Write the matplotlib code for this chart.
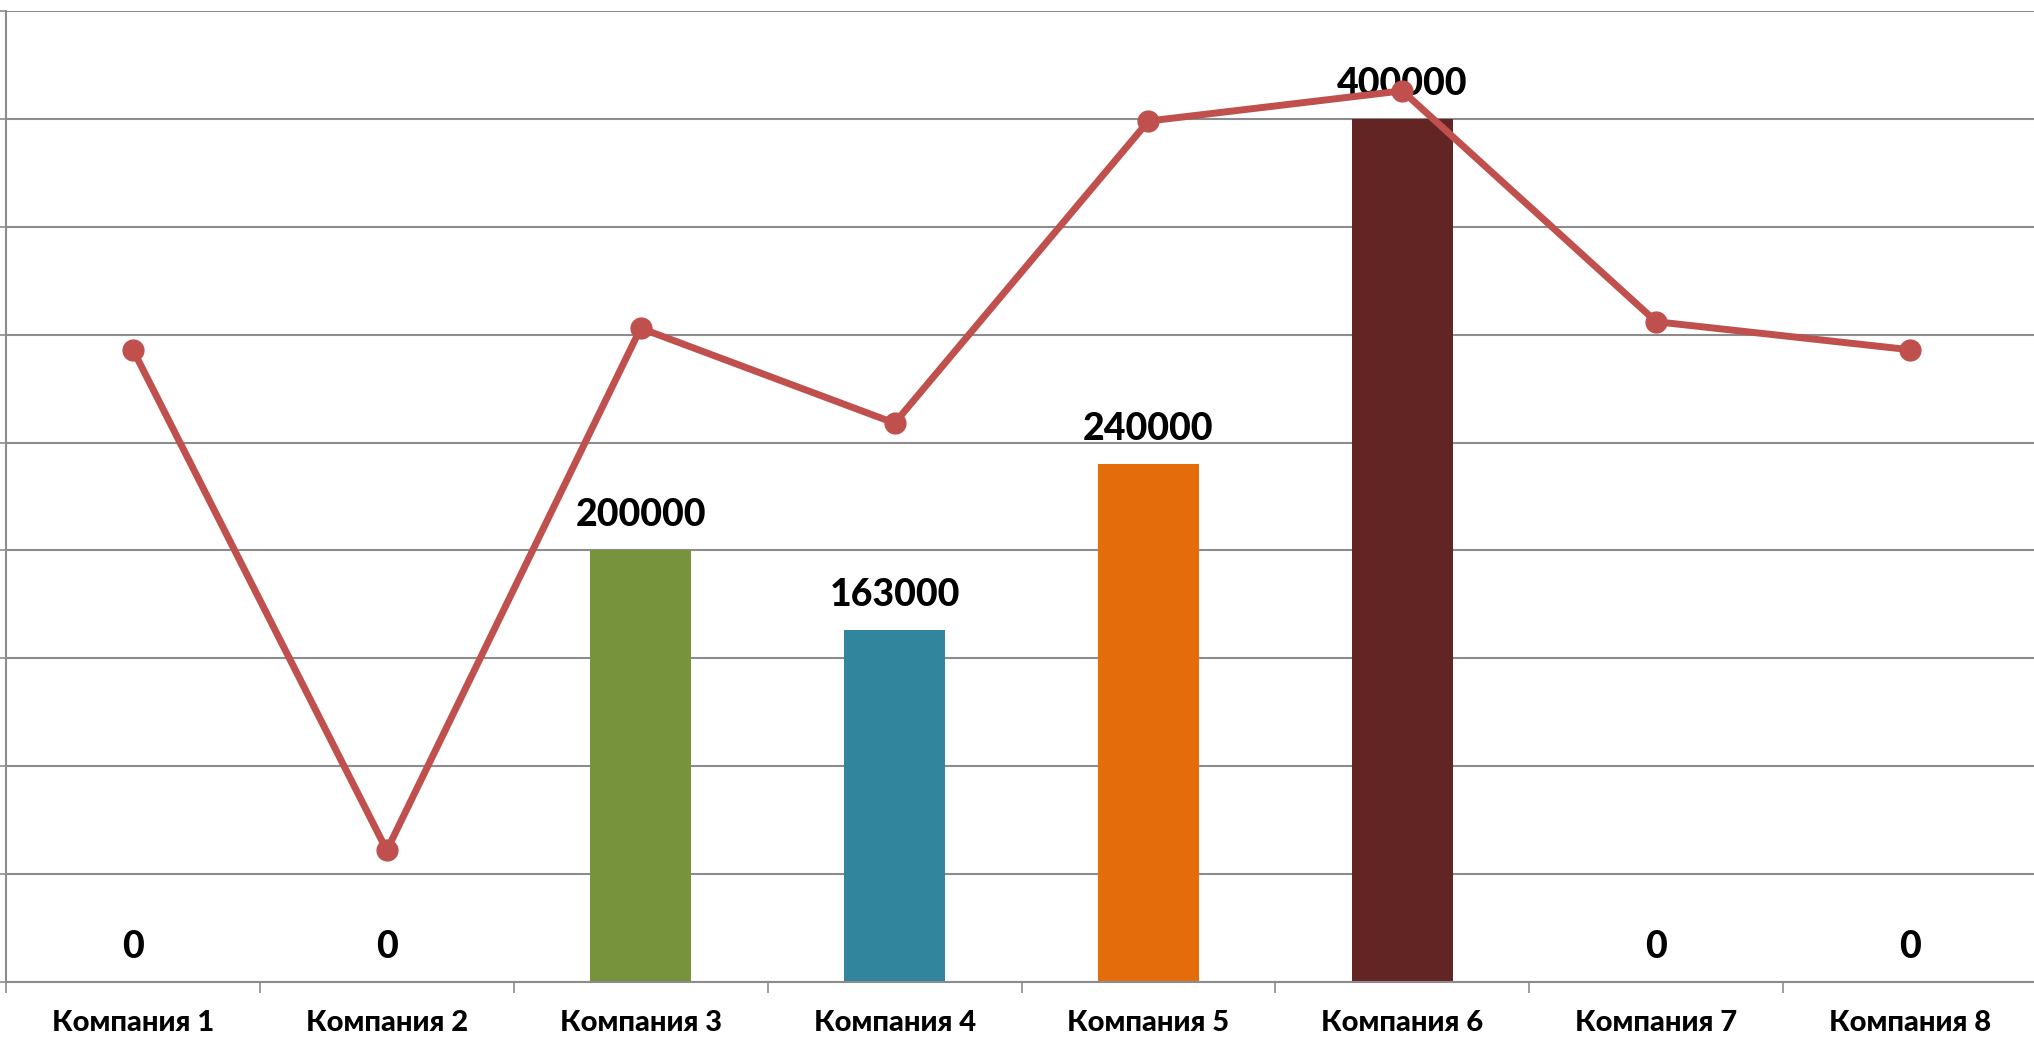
import matplotlib
matplotlib.use("Agg")
import matplotlib.pyplot as plt
import numpy as np

# data
companies = ["Компания 1", "Компания 2", "Компания 3", "Компания 4",
             "Компания 5", "Компания 6", "Компания 7", "Компания 8"]
revenue = [0, 0, 200000, 163000, 240000, 400000, 0, 0]
bar_colors = ["#4F81BD", "#C0504D", "#77933C", "#31859C",
              "#E46C0A", "#632523", "#8064A2", "#4BACC6"]
# secondary (hidden) axis series
index_values = [29.3, 6.1, 30.3, 25.9, 39.9, 41.3, 30.6, 29.3]

plt.rcParams['font.family'] = ['Lato', 'DejaVu Sans']

fig = plt.figure(figsize=(20.34, 10.38), dpi=100)
ax = fig.add_axes([6 / 2034, 56 / 1038, 2031 / 2034, 971 / 1038])

x = np.arange(len(companies))
bars = ax.bar(x, revenue, width=0.4, color=bar_colors, zorder=2)

ax.set_xlim(-0.5, len(companies) - 0.5)
ax.set_ylim(0, 450000)
ax.set_yticks(np.arange(0, 450001, 50000))
ax.set_yticklabels([])
ax.grid(axis='y', color='#8c8c8c', linewidth=1.5, zorder=0)
ax.tick_params(axis='y', length=4, width=1.2, color='#8c8c8c', direction='out')

# category boundary ticks on x
ax.set_xticks(np.arange(-0.5, len(companies) + 0.5, 1), minor=False)
ax.set_xticklabels([])
ax.tick_params(axis='x', length=8, width=1.2, color='#8c8c8c', direction='out')
ax.set_xticks(x, minor=True)
ax.set_xticklabels(companies, minor=True, fontsize=21, fontweight='black')
ax.tick_params(axis='x', which='minor', length=0, pad=20)

for side in ['top', 'right']:
    ax.spines[side].set_visible(False)
for side in ['left', 'bottom']:
    ax.spines[side].set_color('#8c8c8c')
    ax.spines[side].set_linewidth(1.5)

for xi, v in zip(x, revenue):
    ax.annotate(f"{v}", (xi, v), xytext=(0, 13), textcoords='offset points',
                ha='center', va='bottom', fontsize=27, fontweight='black', zorder=5)

ax2 = ax.twinx()
ax2.set_ylim(0, 45)
ax2.plot(x, index_values, color='#C0504D', linewidth=5, marker='o',
         markersize=15, zorder=3)
ax2.axis('off')

fig.savefig("out.png", dpi=100)
